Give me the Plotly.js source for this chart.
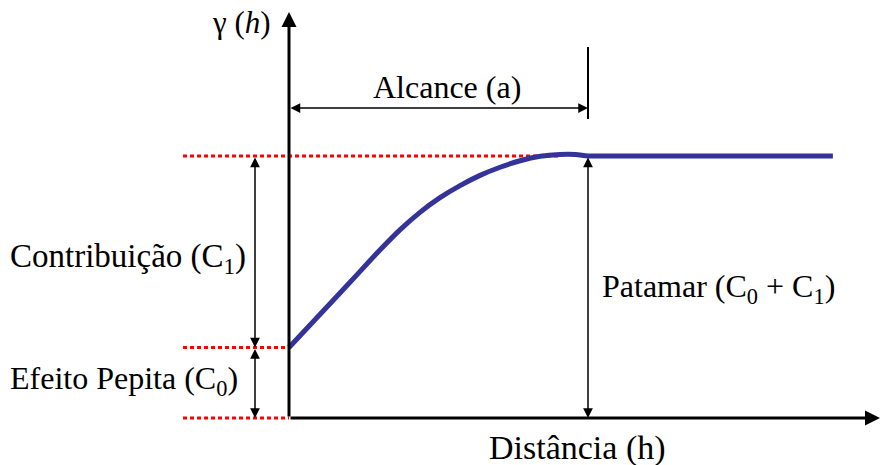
<!DOCTYPE html>
<html>
<head>
<meta charset="utf-8">
<script src="https://cdn.plot.ly/plotly-3.0.1.min.js"></script>
<style>html,body{margin:0;padding:0;background:#fff;}#chart{width:880px;height:465px;}</style>
</head>
<body>
<div id="chart"></div>
<script>
// ---- data (distance in units of the range a, gamma in units of the sill) ----
const distance = [0, 0.104, 0.204, 0.304, 0.371, 0.438, 0.505, 0.572, 0.639, 0.706, 0.773, 0.840, 0.906, 0.957, 1.0, 1.040, 1.819];
const gamma    = [0.269, 0.396, 0.518, 0.641, 0.718, 0.785, 0.841, 0.887, 0.926, 0.957, 0.982, 0.999, 1.006, 1.006, 1.0, 1.0, 1.0];
const nugget = 0.269;      // C0
const sill = 1.0;          // C0 + C1
const rangeA = 1.0;        // a
const labels = {
  yTitle: 'γ (<i>h</i>)',
  xTitle: 'Distância (h)',
  range: 'Alcance (a)',
  contrib: 'Contribuição (C<sub>1</sub>)',
  nugget: 'Efeito Pepita (C<sub>0</sub>)',
  sill: 'Patamar (C<sub>0</sub> + C<sub>1</sub>)'
};

// ---- layout helpers ----
const W = 880, H = 465;
const x0px = 289, xScale = 299;   // pixel of distance 0, pixels per unit
const y0px = 418, yScale = 262;   // pixel of gamma 0, pixels per unit
const px2x = p => (p - x0px) / xScale;
const py2y = p => (y0px - p) / yScale;

const FONT = 'Liberation Serif, Times New Roman, serif';
const redLeft = px2x(183);
const arrowX = px2x(255);

const dotted = {color: 'rgb(255,0,0)', width: 3, dash: '4px,3px'};
const shapes = [
  {type: 'line', layer: 'below', xref: 'x', yref: 'y', x0: redLeft, x1: rangeA * 0.9, y0: sill, y1: sill, line: dotted},
  {type: 'line', layer: 'below', xref: 'x', yref: 'y', x0: redLeft, x1: 0, y0: nugget, y1: nugget, line: dotted},
  {type: 'line', layer: 'below', xref: 'x', yref: 'y', x0: redLeft, x1: 0, y0: 0, y1: 0, line: dotted},
  {type: 'line', xref: 'x', yref: 'y', x0: rangeA, x1: rangeA, y0: py2y(47), y1: py2y(119), line: {color: '#000', width: 2}}
];

function arrow(xh, yh, xt, yt, opts) {
  return Object.assign({
    x: xh, y: yh, ax: xt, ay: yt, xref: 'x', yref: 'y', axref: 'x', ayref: 'y',
    text: '', showarrow: true, arrowhead: 2, arrowsize: 1.3, arrowwidth: 1.5,
    arrowcolor: '#000', standoff: 0, startstandoff: 0
  }, opts || {});
}
function label(text, px, py, anchor, size) {
  return {text: text, x: px / W, y: 1 - py / H, xref: 'paper', yref: 'paper',
    xanchor: anchor || 'left', yanchor: 'middle', showarrow: false,
    font: {family: FONT, size: size || 32, color: '#000'}};
}

const annotations = [
  // axes
  arrow(0, py2y(12), 0, 0, {arrowwidth: 3, arrowsize: 1}),
  arrow(px2x(880), 0, 0, 0, {arrowwidth: 3, arrowsize: 1}),
  // range arrow
  arrow(rangeA, py2y(108), 0, py2y(108), {arrowside: 'end+start'}),
  // contribution and nugget arrows
  arrow(arrowX, nugget, arrowX, sill, {arrowside: 'end+start'}),
  arrow(arrowX, 0, arrowX, nugget, {arrowside: 'end+start'}),
  // sill arrow
  arrow(rangeA, 0, rangeA, sill, {arrowside: 'end+start'}),
  // texts
  label(labels.yTitle, 241, 22, 'center', 31),
  label(labels.range, 447, 87, 'center', 32),
  label(labels.contrib, 8, 258, 'left', 33),
  label(labels.nugget, 8, 380, 'left', 32),
  label(labels.sill, 600, 288, 'left', 32),
  label(labels.xTitle, 577, 448, 'center', 34)
];

const trace = {
  x: distance, y: gamma, type: 'scatter', mode: 'lines',
  line: {color: 'rgb(51,51,153)', width: 5, shape: 'spline', smoothing: 1},
  hoverinfo: 'skip'
};

const layout = {
  width: W, height: H,
  margin: {l: 0, r: 0, t: 0, b: 0},
  paper_bgcolor: '#fff', plot_bgcolor: '#fff',
  showlegend: false,
  font: {family: FONT},
  xaxis: {range: [px2x(0), px2x(W)], visible: false, fixedrange: true},
  yaxis: {range: [py2y(H), py2y(0)], visible: false, fixedrange: true},
  shapes: shapes,
  annotations: annotations
};

Plotly.newPlot('chart', [trace], layout, {staticPlot: true, displayModeBar: false});
</script>
</body>
</html>
